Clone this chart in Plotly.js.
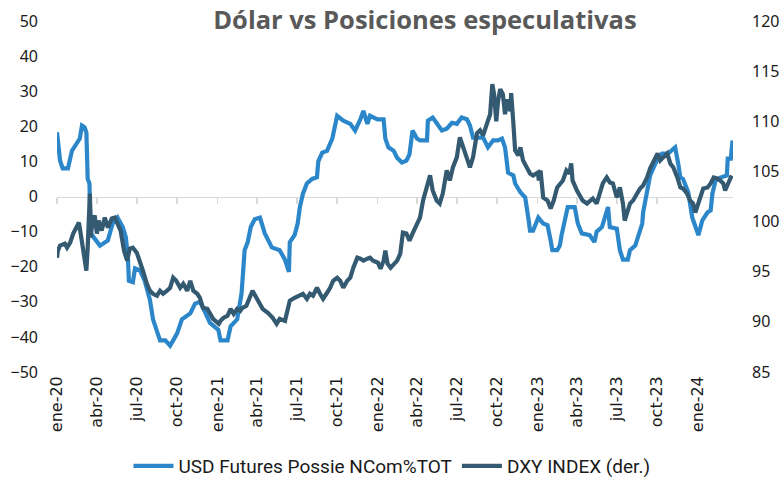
<!DOCTYPE html>
<html>
<head>
<meta charset="utf-8">
<script src="https://cdn.plot.ly/plotly-3.0.1.min.js"></script>
<style>
html,body{margin:0;padding:0;background:#fff;}
#chart{width:784px;height:479px;}
</style>
</head>
<body>
<div id="chart"></div>
<script>
// USD Futures Possie NCom%TOT (left axis)
const usdDates = ["2020-01-01","2020-01-03","2020-01-08","2020-01-14","2020-01-26","2020-02-04","2020-02-15","2020-02-22","2020-02-27","2020-03-04","2020-03-08","2020-03-11","2020-03-15","2020-03-18","2020-03-27","2020-04-08","2020-04-26","2020-05-07","2020-05-18","2020-05-30","2020-06-06","2020-06-11","2020-06-13","2020-06-22","2020-06-27","2020-07-08","2020-07-19","2020-07-31","2020-08-07","2020-08-16","2020-08-23","2020-09-04","2020-09-15","2020-09-22","2020-10-01","2020-10-12","2020-10-31","2020-11-11","2020-11-22","2020-12-04","2020-12-15","2021-01-03","2021-01-08","2021-01-24","2021-01-31","2021-02-15","2021-02-25","2021-03-04","2021-03-11","2021-03-18","2021-03-27","2021-04-08","2021-04-19","2021-05-05","2021-05-23","2021-06-04","2021-06-13","2021-06-15","2021-06-26","2021-07-03","2021-07-08","2021-07-15","2021-07-24","2021-08-05","2021-08-16","2021-08-19","2021-08-28","2021-09-08","2021-09-20","2021-10-01","2021-10-15","2021-10-31","2021-11-11","2021-11-23","2021-11-30","2021-12-09","2021-12-15","2022-01-01","2022-01-15","2022-01-19","2022-01-26","2022-02-07","2022-02-15","2022-02-26","2022-03-08","2022-03-15","2022-03-22","2022-04-01","2022-04-08","2022-04-24","2022-04-26","2022-05-07","2022-05-18","2022-05-28","2022-06-08","2022-06-20","2022-07-01","2022-07-12","2022-07-24","2022-07-31","2022-08-07","2022-08-30","2022-09-10","2022-09-22","2022-10-03","2022-10-12","2022-10-19","2022-10-26","2022-11-07","2022-11-11","2022-11-23","2022-12-04","2022-12-11","2022-12-15","2022-12-22","2023-01-03","2023-01-14","2023-01-24","2023-01-31","2023-02-04","2023-02-15","2023-02-21","2023-02-25","2023-03-04","2023-03-11","2023-03-27","2023-04-03","2023-04-12","2023-04-30","2023-05-11","2023-05-16","2023-05-28","2023-06-04","2023-06-11","2023-06-15","2023-07-01","2023-07-08","2023-07-15","2023-07-26","2023-07-31","2023-08-12","2023-08-19","2023-08-28","2023-08-30","2023-09-08","2023-09-15","2023-09-22","2023-10-03","2023-10-12","2023-10-26","2023-11-07","2023-11-11","2023-11-18","2023-11-23","2023-11-29","2023-12-11","2023-12-20","2023-12-27","2024-01-03","2024-01-12","2024-01-24","2024-01-31","2024-02-04","2024-02-11","2024-02-22","2024-03-08","2024-03-10","2024-03-17","2024-03-21"];
const usdValues = [18.3,15.4,10.2,8,8,13,15.4,16.5,20.2,19.7,18.3,5,3.7,-10.5,-12,-14,-12.5,-7.7,-6,-8.7,-11.6,-18,-24,-24.4,-20.5,-21,-24,-29.5,-35,-38,-41,-41,-42.5,-41,-39,-35,-33.3,-30.5,-30,-33,-36,-38,-41,-41,-37,-35,-27.6,-15.3,-13,-8.7,-6.5,-6,-10.5,-14.5,-15.3,-18,-21.5,-13,-11,-7.7,-3,0.8,3.7,5,5.5,10,12.5,13,16.5,23,21.6,20.7,18.8,22,24.4,20.7,23,22,22,16.5,14,13,11,9.7,10.2,12,18.8,16.5,16,16,21.6,22.5,20.7,18.8,19.3,21,20.7,22.5,22,20.2,16.8,16.8,14,16,16,16.5,14,6.8,6,3.7,1.2,-0.3,-6,-9.7,-9.7,-6,-7.7,-8.2,-12.5,-15.3,-15.3,-14,-11,-6.3,-3,-3,-7.7,-10.5,-11,-13,-10,-8.7,-6,-3,-8.7,-9.2,-15.3,-18,-18,-15.3,-14,-11.6,-7.7,-4.5,0.8,6,8,11,12.2,12.2,13.6,14,9.4,5.4,5,1.2,-6,-8.2,-11,-6.8,-4.5,-4,0.8,4.5,5.4,6,10.8,10.8,16];

// DXY INDEX (right axis)
const dxyDates = ["2020-01-01","2020-01-03","2020-01-08","2020-01-19","2020-01-24","2020-01-31","2020-02-07","2020-02-15","2020-02-20","2020-02-24","2020-02-28","2020-03-04","2020-03-08","2020-03-11","2020-03-13","2020-03-16","2020-03-18","2020-03-22","2020-03-27","2020-04-01","2020-04-05","2020-04-12","2020-04-19","2020-04-26","2020-05-05","2020-05-12","2020-05-18","2020-05-25","2020-06-02","2020-06-09","2020-06-15","2020-06-22","2020-07-01","2020-07-08","2020-07-15","2020-07-24","2020-07-31","2020-08-07","2020-08-16","2020-08-23","2020-08-30","2020-09-08","2020-09-15","2020-09-22","2020-09-29","2020-10-08","2020-10-15","2020-10-24","2020-10-31","2020-11-07","2020-11-16","2020-11-22","2020-11-29","2020-12-09","2020-12-15","2020-12-22","2021-01-04","2021-01-08","2021-01-15","2021-01-24","2021-01-31","2021-02-07","2021-02-15","2021-02-22","2021-02-27","2021-03-08","2021-03-22","2021-04-03","2021-04-14","2021-04-26","2021-05-07","2021-05-16","2021-05-23","2021-06-04","2021-06-15","2021-06-26","2021-07-08","2021-07-15","2021-07-24","2021-07-31","2021-08-07","2021-08-16","2021-08-23","2021-08-30","2021-09-08","2021-09-15","2021-09-22","2021-10-01","2021-10-08","2021-10-15","2021-10-24","2021-10-31","2021-11-07","2021-11-16","2021-11-23","2021-11-30","2021-12-09","2021-12-15","2021-12-22","2022-01-02","2022-01-08","2022-01-15","2022-01-19","2022-01-24","2022-01-31","2022-02-07","2022-02-15","2022-02-22","2022-02-28","2022-03-08","2022-03-15","2022-03-22","2022-04-01","2022-04-08","2022-04-15","2022-04-24","2022-05-01","2022-05-07","2022-05-16","2022-05-23","2022-05-30","2022-06-08","2022-06-15","2022-06-22","2022-07-01","2022-07-08","2022-07-15","2022-07-24","2022-07-31","2022-08-07","2022-08-16","2022-08-23","2022-08-30","2022-09-08","2022-09-15","2022-09-20","2022-09-24","2022-09-29","2022-10-03","2022-10-08","2022-10-14","2022-10-19","2022-10-24","2022-10-31","2022-11-02","2022-11-07","2022-11-11","2022-11-18","2022-11-23","2022-11-29","2022-12-08","2022-12-15","2022-12-22","2023-01-02","2023-01-04","2023-01-08","2023-01-14","2023-01-24","2023-01-31","2023-02-07","2023-02-15","2023-02-22","2023-02-28","2023-03-08","2023-03-15","2023-03-19","2023-03-22","2023-04-01","2023-04-08","2023-04-14","2023-04-24","2023-04-30","2023-05-07","2023-05-16","2023-05-23","2023-05-30","2023-06-08","2023-06-15","2023-06-22","2023-07-01","2023-07-08","2023-07-15","2023-07-19","2023-07-24","2023-07-31","2023-08-07","2023-08-16","2023-08-23","2023-08-30","2023-09-08","2023-09-15","2023-09-22","2023-10-02","2023-10-08","2023-10-14","2023-10-24","2023-10-31","2023-11-07","2023-11-16","2023-11-23","2023-11-29","2023-12-08","2023-12-15","2023-12-22","2023-12-27","2024-01-02","2024-01-08","2024-01-14","2024-01-24","2024-01-31","2024-02-07","2024-02-15","2024-02-22","2024-02-29","2024-03-04","2024-03-10","2024-03-17","2024-03-21"];
const dxyValues = [96.4,97.1,97.6,97.8,97.4,97.9,98.8,99.6,99.9,98.8,97.4,96.4,95.1,97.4,99.1,102.8,98.4,100.1,100.6,98.8,100.1,99.1,100.4,99.4,100.3,100.4,99.8,99.1,97.1,96.1,97.3,97.4,96.9,96.1,95.1,93.8,93.1,92.8,92.6,93.1,92.8,93.1,93.4,94.4,94.1,93.4,93.8,93.1,94.1,93.1,92.8,92.4,91.4,91.3,90.8,90.3,89.8,90.1,90.4,90.6,91.3,90.8,91.3,91.1,91.4,91.6,93.1,92.1,91.3,90.9,90.4,89.8,90.3,90.1,92.1,92.4,92.6,92.8,92.3,92.8,92.6,93.4,92.8,92.3,92.9,93.4,94.1,94.4,94.1,93.4,94.1,94.4,95.4,96.4,96.3,96.1,96.3,96.4,96.1,95.9,95.3,96.1,97.1,95.8,95.4,95.8,96.1,96.8,98.9,98.8,98.1,98.8,99.8,100.4,102.1,103.4,104.6,103.1,102.1,101.8,102.8,105.1,104.1,105.4,106.4,108.4,107.4,106.4,105.4,106.4,108.8,109.1,108.6,109.8,110.7,113.7,112.7,110.0,112.0,113.2,112.7,110.7,112.2,111.0,112.8,109.8,107.1,106.6,107.4,106.1,105.4,104.8,104.6,104.9,104.1,105.1,102.4,102.1,101.3,102.1,103.4,103.8,104.1,105.1,104.8,105.8,104.1,103.1,102.6,102.1,101.8,102.1,102.3,101.8,102.8,103.8,104.4,103.9,103.8,102.4,103.4,101.8,100.1,100.8,101.8,102.1,102.8,103.3,103.6,104.4,105.3,105.9,106.8,106.1,106.4,106.8,105.8,105.4,104.4,103.4,103.3,102.8,102.1,101.8,100.9,101.8,102.4,103.3,103.4,103.8,104.4,104.3,104.1,103.8,103.1,103.8,104.4,104.3];

const xTickVals = ["2020-01-01","2020-04-01","2020-07-01","2020-10-01","2021-01-01","2021-04-01","2021-07-01","2021-10-01","2022-01-01","2022-04-01","2022-07-01","2022-10-01","2023-01-01","2023-04-01","2023-07-01","2023-10-01","2024-01-01"];
const xTickText = ["ene-20","abr-20","jul-20","oct-20","ene-21","abr-21","jul-21","oct-21","ene-22","abr-22","jul-22","oct-22","ene-23","abr-23","jul-23","oct-23","ene-24"];
const xRange = ["2020-01-01","2024-03-22"];

const traces = [
  {x: usdDates, y: usdValues, type: 'scatter', mode: 'lines',
   name: 'USD Futures Possie NCom%TOT', xaxis: 'x', yaxis: 'y',
   line: {color: '#2b87ca', width: 4.2}},
  {x: dxyDates, y: dxyValues, type: 'scatter', mode: 'lines',
   name: 'DXY INDEX (der.)', xaxis: 'x2', yaxis: 'y2',
   line: {color: '#345a72', width: 4.2}}
];

const tickFont = {family: 'Noto Sans, Open Sans, sans-serif', size: 16, color: '#1a1a1a'};

const layout = {
  width: 784, height: 479,
  margin: {l: 57, r: 51, t: 21, b: 107},
  paper_bgcolor: '#ffffff', plot_bgcolor: '#ffffff',
  title: {text: '<b>Dólar vs Posiciones especulativas</b>',
          font: {family: 'Open Sans, Lato, sans-serif', size: 25.5, color: '#595959'},
          x: 0.542, xanchor: 'center', xref: 'container',
          y: 0.958, yanchor: 'middle', yref: 'container', automargin: false},
  showlegend: true,
  legend: {orientation: 'h', x: 0.5, xanchor: 'center', xref: 'container',
           y: 0.027, yanchor: 'middle', yref: 'container',
           font: {family: 'Liberation Sans Narrow, Roboto, sans-serif', size: 19, color: '#1a1a1a'},
           itemwidth: 40, bgcolor: 'rgba(0,0,0,0)'},
  xaxis: {type: 'date', range: xRange, tickmode: 'array', tickvals: xTickVals, ticktext: xTickText,
          tickangle: -90, showgrid: false, zeroline: false, showline: false, ticks: '',
          automargin: false,
          tickfont: {family: 'DejaVu Sans, sans-serif', size: 16, color: '#1a1a1a'}},
  xaxis2: {type: 'date', range: xRange, overlaying: 'x', anchor: 'free', position: 0.5, side: 'bottom',
           tickmode: 'array', tickvals: xTickVals, showticklabels: false,
           showline: true, linecolor: '#d9d9d9', linewidth: 1.5, automargin: false,
           ticks: 'outside', ticklen: 6, tickwidth: 1.5, tickcolor: '#d9d9d9',
           showgrid: false, zeroline: false, layer: 'below traces'},
  yaxis: {range: [-50, 50], dtick: 10, tick0: 0, showgrid: false, zeroline: false, showline: false,
          ticks: '', tickfont: tickFont, ticklabelstandoff: 18, automargin: false},
  yaxis2: {range: [85, 120], dtick: 5, tick0: 85, overlaying: 'y', side: 'right', anchor: 'x2',
           showgrid: false, zeroline: false, showline: false, ticks: '', tickfont: tickFont,
           ticklabelstandoff: 18, automargin: false}
};

Plotly.newPlot('chart', traces, layout, {displayModeBar: false, staticPlot: true});
</script>
</body>
</html>
